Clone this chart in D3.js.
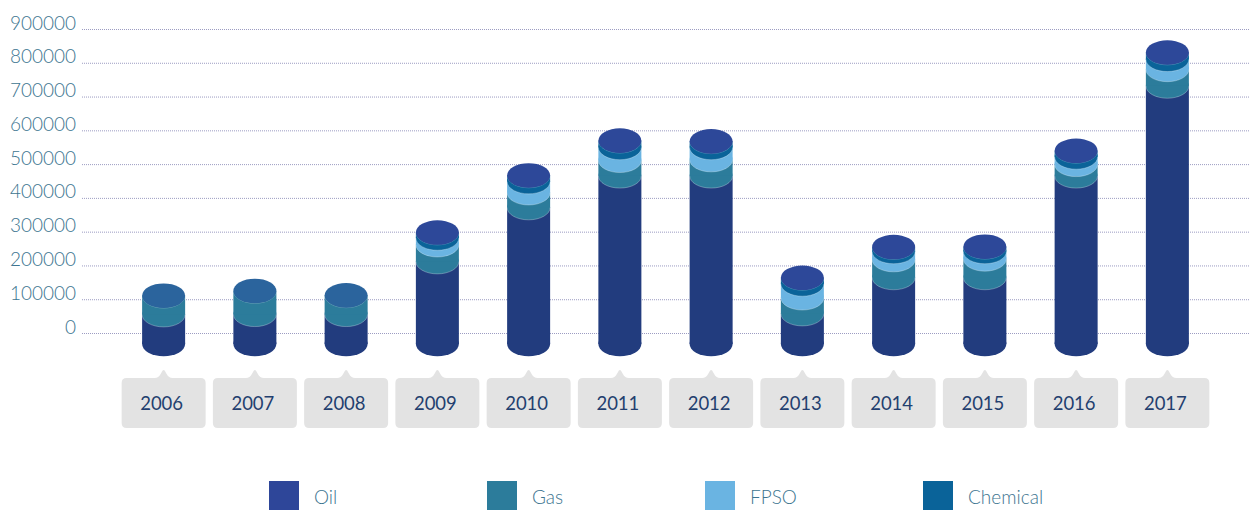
<!DOCTYPE html>
<html>
<head>
<meta charset="utf-8">
<script src="https://cdn.jsdelivr.net/npm/d3@7"></script>
<style>
  html, body { margin: 0; padding: 0; background: #fff; }
  svg { display: block; font-family: Lato, "Open Sans", sans-serif; }
</style>
</head>
<body>
<svg id="chart" width="1250" height="510"></svg>
<script>
const years = ["2006", "2007", "2008", "2009", "2010", "2011", "2012", "2013", "2014", "2015", "2016", "2017"];
const oil = [87000, 88000, 88000, 244000, 404000, 498000, 498000, 90000, 197000, 197000, 498000, 764000];
const gas = [56000, 69000, 56000, 50000, 44000, 46000, 48000, 47000, 53000, 55000, 34000, 49000];
const fpso = [0, 0, 0, 20000, 33000, 38000, 36000, 41000, 24000, 22000, 22000, 30000];
const chemical = [0, 0, 0, 16000, 18000, 20000, 18000, 18000, 13000, 14000, 18000, 20000];
const yTicks = [0, 100000, 200000, 300000, 400000, 500000, 600000, 700000, 800000, 900000];
const seriesNames = ["Oil", "Gas", "FPSO", "Chemical"];

const legendColors = { Oil: "#2e4699", Gas: "#2c7c9b", FPSO: "#6ab4e2", Chemical: "#0a6399" };
const bodyColors = { Oil: "#223c7e", Gas: "#2c7c9b", FPSO: "#6ab4e2", Chemical: "#0a6399" };
const CAP_COLOR = "#2d4899";
const CAP_COLOR_PLAIN = "#2b649d";
const LABEL_COLOR = "#3d7590";

const width = 1250;
const gridLeft = 82;
const depthOffset = 11;
const rx = 21.5;
const ry = 12.3;

const svg = d3.select("#chart");

const y = d3.scaleLinear().domain([0, 900000]).range([333, 29]);
const x = d3.scaleBand().domain(years).range([118, 1213]).padding(0);

// grid + labels
const axis = d3.axisLeft(y)
  .tickValues(yTicks)
  .tickFormat(d3.format("d"))
  .tickSizeInner(-(width - gridLeft))
  .tickSizeOuter(0)
  .tickPadding(6);

const axisG = svg.append("g")
  .attr("transform", `translate(${gridLeft},0)`)
  .call(axis);
axisG.select(".domain").remove();
axisG.selectAll(".tick line")
  .attr("stroke", "#9c9cc2")
  .attr("stroke-width", 1)
  .attr("stroke-dasharray", "1,1");
axisG.selectAll(".tick text")
  .attr("dy", "0")
  .attr("fill", LABEL_COLOR)
  .style("font-size", "19px")
  .style("font-weight", 300)
  .style("font-family", "Lato, sans-serif");

// stacked cylinders
const rows = years.map((year, i) => ({
  year,
  Oil: oil[i],
  Gas: gas[i],
  FPSO: fpso[i],
  Chemical: chemical[i],
}));
const stacked = d3.stack().keys(seriesNames)(rows);
const cy = (v) => y(v) + depthOffset;

const cylinders = svg.append("g");

years.forEach((year, i) => {
  const cx = x(year) + x.bandwidth() / 2;
  const g = cylinders.append("g");

  stacked.forEach((layer) => {
    const [v0, v1] = layer[i];
    if (v1 - v0 <= 0) return;
    const color = bodyColors[layer.key];
    g.append("ellipse")
      .attr("cx", cx)
      .attr("cy", cy(v0))
      .attr("rx", rx)
      .attr("ry", ry)
      .attr("fill", color);
    g.append("rect")
      .attr("x", cx - rx)
      .attr("y", cy(v1))
      .attr("width", rx * 2)
      .attr("height", cy(v0) - cy(v1))
      .attr("fill", color);
    if (v0 > 0) {
      g.append("path")
        .attr("d", `M${cx - rx},${cy(v0)} A${rx},${ry} 0 0 0 ${cx + rx},${cy(v0)}`)
        .attr("fill", "none")
        .attr("stroke", "rgba(255,255,255,0.35)")
        .attr("stroke-width", 0.8);
    }
  });

  const total = oil[i] + gas[i] + fpso[i] + chemical[i];
  g.append("path")
    .attr("d", `M${cx - rx},${cy(total)} A${rx},${ry} 0 0 0 ${cx + rx},${cy(total)}`)
    .attr("fill", "none")
    .attr("stroke", "rgba(255,255,255,0.35)")
    .attr("stroke-width", 0.8);
  g.append("ellipse")
    .attr("cx", cx)
    .attr("cy", cy(total))
    .attr("rx", rx)
    .attr("ry", ry)
    .attr("fill", chemical[i] > 0 ? CAP_COLOR : CAP_COLOR_PLAIN);
});

// year label boxes
const boxW = 84;
const boxTop = 378;
const boxH = 50;
const r = 5;
const labels = svg.append("g");

years.forEach((year) => {
  const cx = x(year) + x.bandwidth() / 2;
  const l = cx - boxW / 2;
  const rt = cx + boxW / 2;
  const b = boxTop + boxH;
  const d = [
    `M${l + r},${boxTop}`,
    `L${cx - 9},${boxTop}`,
    `Q${cx - 5},${boxTop} ${cx - 3},${boxTop - 4}`,
    `L${cx - 1},${boxTop - 7.5}`,
    `Q${cx},${boxTop - 8.5} ${cx + 1},${boxTop - 7.5}`,
    `L${cx + 3},${boxTop - 4}`,
    `Q${cx + 5},${boxTop} ${cx + 9},${boxTop}`,
    `L${rt - r},${boxTop}`,
    `Q${rt},${boxTop} ${rt},${boxTop + r}`,
    `L${rt},${b - r}`,
    `Q${rt},${b} ${rt - r},${b}`,
    `L${l + r},${b}`,
    `Q${l},${b} ${l},${b - r}`,
    `L${l},${boxTop + r}`,
    `Q${l},${boxTop} ${l + r},${boxTop}`,
    "Z",
  ].join(" ");
  labels.append("path").attr("d", d).attr("fill", "#e3e3e3");
  labels.append("text")
    .attr("x", cx - 2)
    .attr("y", 404)
    .attr("dy", "0.35em")
    .attr("text-anchor", "middle")
    .attr("fill", "#233f6f")
    .style("font-size", "18.5px")
    .text(year);
});

// legend
const legendX = d3.scalePoint().domain(seriesNames).range([269, 923]);
const legend = svg.append("g");
seriesNames.forEach((name) => {
  const lx = legendX(name);
  legend.append("rect")
    .attr("x", lx)
    .attr("y", 481)
    .attr("width", 30)
    .attr("height", 30)
    .attr("fill", legendColors[name]);
  legend.append("text")
    .attr("x", lx + 45)
    .attr("y", 504)
    .attr("fill", LABEL_COLOR)
    .style("font-size", "19px")
    .style("font-weight", 300)
    .text(name);
});
</script>
</body>
</html>
